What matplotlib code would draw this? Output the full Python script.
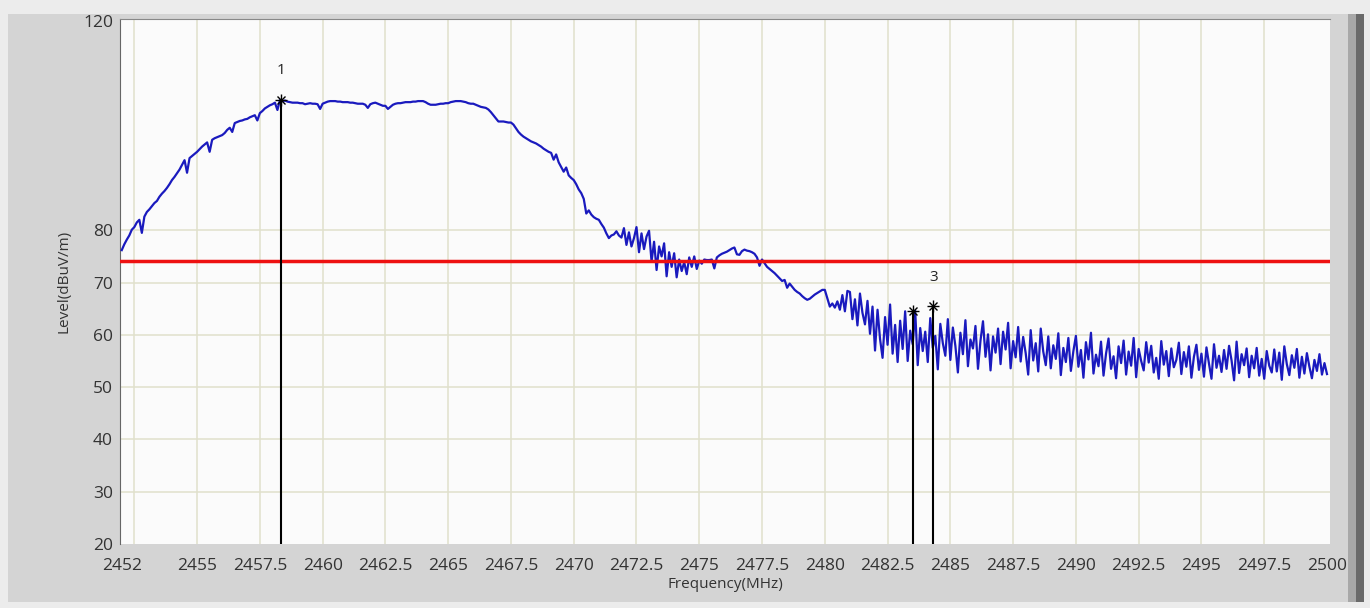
import numpy as np
import matplotlib
matplotlib.use("Agg")
from matplotlib import pyplot as plt
from matplotlib.patches import Rectangle

plt.rcParams['font.family'] = ['Open Sans', 'DejaVu Sans']

# spectrum sweep 2452..2500 MHz, one reading every 0.1 MHz
f_start, f_stop = 2452.0, 2500.0
level = [
    76.2, 77.3, 78.2, 79.0, 80.1, 80.6, 81.5, 82.0, 79.5, 82.6,   # 2452
    83.5, 84.0, 84.6, 85.2, 85.6, 86.4, 87.0, 87.5, 88.1, 88.8,   # 2453
    89.6, 90.2, 90.9, 91.6, 92.5, 93.4, 91.0, 93.8, 94.2, 94.6,   # 2454
    95.0, 95.5, 96.0, 96.4, 96.8, 95.0, 97.3, 97.6, 97.8, 98.0,   # 2455
    98.2, 98.6, 99.2, 99.6, 98.8, 100.5, 100.7, 100.9, 101.0, 101.2,
    101.3, 101.6, 101.8, 102.0, 101.0, 102.4, 102.8, 103.3, 103.6, 103.9,
    104.1, 104.4, 103.0, 104.9, 104.7, 104.8, 104.6, 104.5, 104.4, 104.4,
    104.4, 104.3, 104.3, 104.1, 104.2, 104.3, 104.2, 104.2, 104.1, 103.2,
    104.2, 104.4, 104.6, 104.7, 104.7, 104.7, 104.6, 104.6, 104.5, 104.5,   # 2460
    104.5, 104.4, 104.4, 104.3, 104.2, 104.2, 104.2, 104.0, 103.4, 104.1,
    104.3, 104.4, 104.2, 104.0, 103.8, 103.8, 103.2, 103.6, 104.0, 104.2,
    104.3, 104.3, 104.4, 104.5, 104.5, 104.5, 104.6, 104.6, 104.7, 104.7,
    104.7, 104.5, 104.2, 104.0, 104.0, 104.0, 104.1, 104.2, 104.2, 104.3,
    104.3, 104.5, 104.6, 104.7, 104.7, 104.7, 104.6, 104.5, 104.3, 104.2,   # 2465
    104.2, 104.0, 103.8, 103.6, 103.5, 103.4, 103.1, 102.6, 102.0, 101.4,
    100.8, 100.8, 100.8, 100.7, 100.6, 100.6, 100.2, 99.5, 98.8, 98.3,
    97.9, 97.6, 97.3, 97.0, 96.8, 96.6, 96.3, 96.0, 95.6, 95.3,
    95.0, 94.8, 93.5, 94.5, 93.0, 92.1, 91.2, 92.0, 90.5, 90.0,
    89.6, 88.8, 87.8, 87.1, 86.0, 83.2, 83.8, 83.0, 82.5, 82.2,   # 2470
    82.0, 81.2, 80.5, 79.4, 78.5, 79.0, 79.2, 79.8, 79.0, 78.6,
    80.4, 77.2, 79.6, 76.9, 78.5, 80.6, 75.8, 79.4, 76.4, 78.8,
    79.9, 74.0, 77.8, 72.4, 76.9, 75.0, 77.5, 71.2, 75.8, 73.0,
    75.6, 71.0, 74.4, 72.2, 73.9, 71.6, 74.8, 73.0, 75.0, 72.6,
    74.2, 73.6, 74.4, 74.3, 74.3, 74.4, 72.7, 74.8, 75.2, 75.5,   # 2475
    75.7, 75.9, 76.2, 76.5, 76.7, 75.4, 75.3, 76.0, 76.3, 76.1,
    76.0, 75.8, 75.5, 74.8, 73.2, 74.4, 73.7, 73.0, 72.6, 72.2,
    71.8, 71.3, 70.8, 70.3, 70.5, 69.0, 69.8, 69.2, 68.6, 68.2,
    67.9, 67.4, 67.0, 66.7, 66.9, 67.3, 67.7, 68.0, 68.3, 68.6,
    68.6, 67.0, 65.4, 66.0, 65.2, 66.4, 64.8, 67.6, 64.5, 68.4,   # 2480
    68.2, 63.0, 66.8, 61.8, 67.9, 64.2, 62.0, 66.5, 60.2, 65.4,
    57.0, 64.8, 59.2, 55.6, 63.4, 58.1, 65.8, 56.4, 61.9, 54.8,
    62.7, 57.3, 64.5, 55.0, 60.8, 58.2, 64.6, 54.2, 61.3, 56.9,
    60.6, 54.8, 63.2, 57.5, 59.8, 53.4, 62.1, 58.4, 56.0, 63.0,
    55.2, 61.4, 57.9, 52.8, 60.4, 56.3, 62.8, 54.0, 59.1, 57.4,   # 2485
    61.7, 53.5, 58.9, 62.6, 55.8, 60.1, 53.2, 59.7, 56.6, 61.2,
    54.4, 60.6, 57.2, 62.3, 53.6, 58.8, 55.7, 61.5, 54.9, 59.6,
    56.5, 52.4, 60.9, 55.1, 58.4, 53.0, 61.2, 56.8, 54.2, 59.7,
    53.6, 58.0, 55.4, 60.3, 52.3, 57.5, 54.8, 59.4, 53.1, 56.9,
    59.8, 53.9, 57.1, 51.8, 58.6, 55.3, 60.4, 52.6, 56.2, 54.0,   # 2490
    58.7, 52.2, 56.4, 59.3, 53.5, 55.9, 51.7, 57.8, 54.6, 58.9,
    52.4, 56.8, 54.1, 59.4, 51.9, 57.3, 55.0, 53.2, 58.6, 54.7,
    57.9, 52.8, 55.6, 51.6, 58.8, 54.3, 56.9, 52.1, 57.4, 53.8,
    55.2, 58.5, 52.5, 56.7, 53.9, 57.8, 51.8, 55.8, 58.1, 53.3,
    56.4, 52.0, 57.6, 54.5, 51.6, 58.2, 53.7, 56.0, 52.9, 57.1,   # 2495
    53.5, 57.9, 55.1, 51.3, 58.7, 52.7, 56.3, 54.2, 57.4, 51.9,
    56.0, 53.6, 57.5, 52.2, 55.4, 51.6, 56.9, 54.1, 52.8, 57.2,
    53.0, 56.6, 51.4, 57.8, 54.4, 52.3, 56.1, 53.7, 57.3, 51.8,
    55.8, 52.6, 56.5, 53.9, 51.7, 55.2, 53.1, 56.3, 52.4, 54.6,
    52.5,
]
freq = np.linspace(f_start, f_stop, len(level))

limit_level = 74.1

marker_freq = [2458.35, 2483.53, 2484.32]
marker_level = [105.0, 64.6, 65.5]
marker_label = ['1', '', '3']

xtick_vals = [2452, 2455, 2457.5, 2460, 2462.5, 2465, 2467.5, 2470, 2472.5, 2475,
              2477.5, 2480, 2482.5, 2485, 2487.5, 2490, 2492.5, 2495, 2497.5, 2500]
xtick_text = ['2452', '2455', '2457.5', '2460', '2462.5', '2465', '2467.5', '2470', '2472.5', '2475',
              '2477.5', '2480', '2482.5', '2485', '2487.5', '2490', '2492.5', '2495', '2497.5', '2500']
vgrid = [2452.5, 2455, 2457.5, 2460, 2462.5, 2465, 2467.5, 2470, 2472.5, 2475,
         2477.5, 2480, 2482.5, 2485, 2487.5, 2490, 2492.5, 2495, 2497.5]
ytick_vals = [20, 30, 40, 50, 60, 70, 80, 120]
hgrid = [30, 40, 50, 60, 70, 80]

fig = plt.figure(figsize=(13.7, 6.08), dpi=100)
fig.patch.set_facecolor('#ececec')
# window frame look
fig.add_artist(Rectangle((8/1370, 6/608), 1340/1370, 588/608, transform=fig.transFigure,
                         facecolor='#d4d4d4', edgecolor='none', zorder=0))
fig.add_artist(Rectangle((1348/1370, 6/608), 8/1370, 588/608, transform=fig.transFigure,
                         facecolor='#a8a8a8', edgecolor='none', zorder=0))
fig.add_artist(Rectangle((1356/1370, 6/608), 8/1370, 588/608, transform=fig.transFigure,
                         facecolor='#6a6a6a', edgecolor='none', zorder=0))

ax = fig.add_axes([120/1370, 1 - 544/608, 1210/1370, 525/608])
ax.set_facecolor('#fbfbfb')

for g in vgrid:
    ax.axvline(g, color='#e0e0cc', lw=1.1, zorder=1)
for g in hgrid:
    ax.axhline(g, color='#e0e0cc', lw=1.1, zorder=1)

ax.plot(freq, level, color='#1a1abe', lw=1.6, zorder=3)
ax.axhline(limit_level, color='#ee1111', lw=2.5, zorder=4)

for fm, lv, lb in zip(marker_freq, marker_level, marker_label):
    ax.plot([fm, fm], [20, lv], color='k', lw=1.5, zorder=5)
    ax.plot(fm, lv, marker='+', ms=9, mew=1, color='k', zorder=6)
    ax.plot(fm, lv, marker='x', ms=6, mew=1, color='k', zorder=6)
    if lb:
        ax.text(fm, lv + 5.5, lb, ha='center', va='center', fontsize=11, color='#222222')

ax.set_xlim(2451.93, 2500.12)
ax.set_ylim(20, 120.4)
ax.set_xticks(xtick_vals)
ax.set_xticklabels(xtick_text)
ax.set_yticks(ytick_vals)
ax.tick_params(axis='both', length=0, labelsize=12.5, labelcolor='#333333')
ax.tick_params(axis='x', pad=10)
ax.tick_params(axis='y', pad=5)

for s in ['right', 'bottom']:
    ax.spines[s].set_visible(False)
ax.spines['left'].set_color('#666666')
ax.spines['top'].set_color('#888888')

ax.set_xlabel('Frequency(MHz)', fontsize=11, color='#333333', labelpad=2)
ax.set_ylabel('Level(dBuV/m)', fontsize=11, color='#333333', labelpad=8)

fig.savefig('out.png', dpi=100, facecolor=fig.get_facecolor())
